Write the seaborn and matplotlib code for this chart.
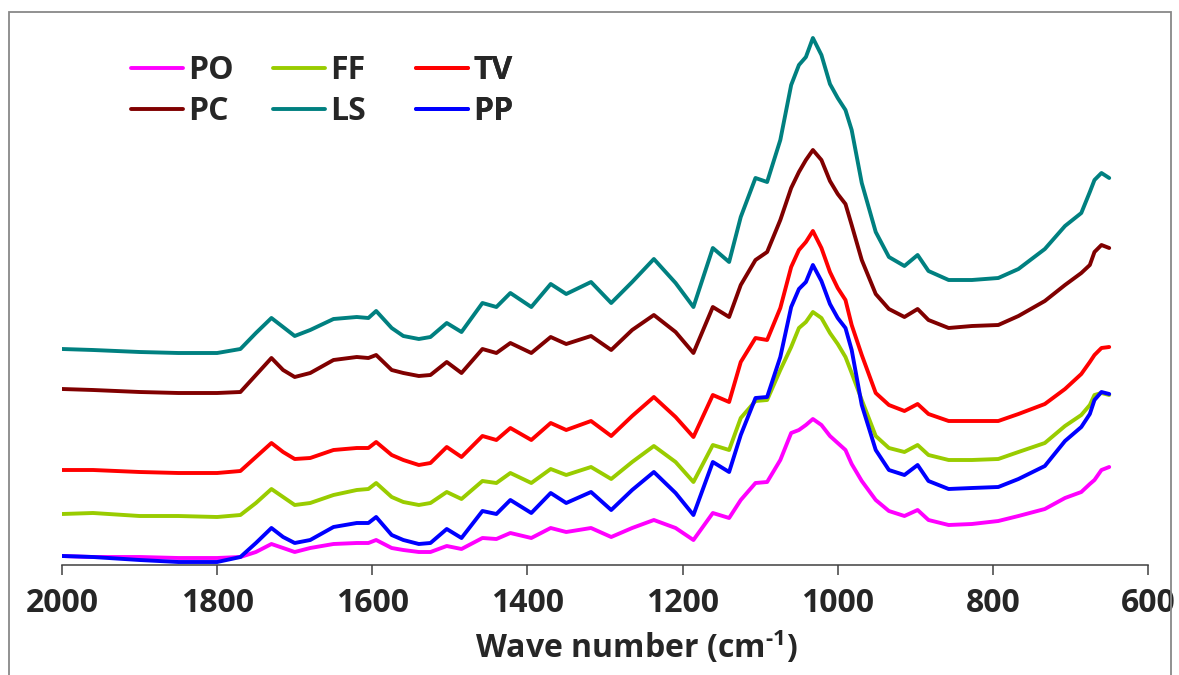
import numpy as np
import pandas as pd
import matplotlib
matplotlib.use("Agg")
import matplotlib.pyplot as plt
from matplotlib.patches import Rectangle
import seaborn as sns

# wave numbers (cm-1), shared by all spectra
wavenumber = [2000, 1960, 1900, 1850, 1800, 1770, 1750, 1730, 1715, 1700,
              1680, 1650, 1620, 1605, 1595, 1575, 1560, 1540, 1525, 1504,
              1485, 1458, 1440, 1422, 1395, 1370, 1350, 1318, 1292, 1265,
              1237, 1209, 1186, 1161, 1140, 1125, 1106, 1091, 1074, 1060,
              1050, 1041, 1032, 1021, 1010, 1000, 990, 982, 969, 951,
              934, 914, 897, 883, 857, 827, 793, 767, 733, 707,
              686, 675, 669, 660, 650]

# absorbance (offset, a.u.)
po = [0.09, 0.08, 0.08, 0.07, 0.07, 0.08, 0.13, 0.21, 0.17, 0.13,
      0.17, 0.21, 0.22, 0.22, 0.25, 0.17, 0.15, 0.13, 0.13, 0.19,
      0.16, 0.27, 0.26, 0.32, 0.27, 0.37, 0.33, 0.37, 0.28, 0.37,
      0.45, 0.37, 0.25, 0.52, 0.47, 0.65, 0.82, 0.83, 1.05, 1.32,
      1.35, 1.40, 1.46, 1.40, 1.29, 1.22, 1.15, 1.01, 0.84, 0.65,
      0.54, 0.49, 0.55, 0.45, 0.40, 0.41, 0.44, 0.49, 0.56, 0.67,
      0.73, 0.81, 0.85, 0.95, 0.98]
ff = [0.51, 0.52, 0.49, 0.49, 0.48, 0.50, 0.62, 0.76, 0.68, 0.60,
      0.62, 0.70, 0.75, 0.76, 0.82, 0.68, 0.63, 0.60, 0.62, 0.73,
      0.66, 0.84, 0.82, 0.92, 0.82, 0.96, 0.90, 0.98, 0.86, 1.03,
      1.19, 1.03, 0.83, 1.20, 1.15, 1.47, 1.64, 1.65, 1.95, 2.18,
      2.37, 2.43, 2.53, 2.47, 2.32, 2.21, 2.08, 1.92, 1.65, 1.29,
      1.17, 1.13, 1.20, 1.10, 1.05, 1.05, 1.06, 1.13, 1.22, 1.39,
      1.50, 1.60, 1.70, 1.72, 1.70]
tv = [0.95, 0.95, 0.93, 0.92, 0.92, 0.94, 1.08, 1.22, 1.13, 1.06,
      1.07, 1.15, 1.17, 1.17, 1.23, 1.10, 1.05, 1.00, 1.02, 1.18,
      1.08, 1.29, 1.25, 1.37, 1.25, 1.42, 1.35, 1.44, 1.29, 1.49,
      1.68, 1.48, 1.28, 1.70, 1.63, 2.03, 2.27, 2.25, 2.57, 2.98,
      3.15, 3.23, 3.34, 3.17, 2.93, 2.77, 2.65, 2.40, 2.10, 1.72,
      1.60, 1.54, 1.61, 1.51, 1.44, 1.44, 1.44, 1.51, 1.61, 1.76,
      1.91, 2.03, 2.10, 2.17, 2.18]
pc = [1.76, 1.75, 1.73, 1.72, 1.72, 1.73, 1.90, 2.07, 1.95, 1.88,
      1.92, 2.05, 2.08, 2.07, 2.10, 1.95, 1.92, 1.89, 1.90, 2.03,
      1.92, 2.16, 2.12, 2.22, 2.12, 2.28, 2.21, 2.29, 2.15, 2.35,
      2.50, 2.33, 2.12, 2.58, 2.48, 2.80, 3.05, 3.13, 3.45, 3.77,
      3.93, 4.05, 4.15, 4.05, 3.84, 3.71, 3.61, 3.40, 3.05, 2.71,
      2.56, 2.48, 2.56, 2.45, 2.37, 2.39, 2.40, 2.49, 2.64, 2.80,
      2.92, 3.00, 3.13, 3.20, 3.17]
ls = [2.16, 2.15, 2.13, 2.12, 2.12, 2.16, 2.32, 2.47, 2.38, 2.29,
      2.35, 2.46, 2.48, 2.47, 2.54, 2.37, 2.29, 2.26, 2.28, 2.42,
      2.33, 2.62, 2.58, 2.72, 2.58, 2.81, 2.71, 2.83, 2.62, 2.83,
      3.06, 2.82, 2.58, 3.17, 3.03, 3.48, 3.87, 3.83, 4.25, 4.80,
      5.00, 5.08, 5.27, 5.10, 4.81, 4.67, 4.55, 4.35, 3.82, 3.33,
      3.08, 2.99, 3.10, 2.94, 2.85, 2.85, 2.87, 2.96, 3.16, 3.39,
      3.52, 3.73, 3.85, 3.92, 3.87]
pp = [0.09, 0.08, 0.05, 0.03, 0.03, 0.08, 0.22, 0.37, 0.28, 0.22,
      0.25, 0.38, 0.42, 0.42, 0.48, 0.30, 0.25, 0.21, 0.22, 0.36,
      0.27, 0.54, 0.51, 0.65, 0.52, 0.72, 0.62, 0.73, 0.55, 0.75,
      0.93, 0.72, 0.50, 1.03, 0.93, 1.30, 1.67, 1.68, 2.08, 2.58,
      2.76, 2.83, 3.00, 2.84, 2.61, 2.47, 2.37, 2.15, 1.60, 1.15,
      0.95, 0.90, 1.00, 0.84, 0.76, 0.77, 0.78, 0.86, 0.99, 1.24,
      1.38, 1.51, 1.65, 1.73, 1.71]

names = ["PO", "FF", "TV", "PC", "LS", "PP"]
spectra = {"PO": po, "FF": ff, "TV": tv, "PC": pc, "LS": ls, "PP": pp}
colors = {"PO": "#FF00FF", "FF": "#99CC00", "TV": "#FF0000",
          "PC": "#800000", "LS": "#008080", "PP": "#0000FF"}

sns.set_theme(style="white")
plt.rcParams["font.family"] = ["Open Sans", "DejaVu Sans"]
plt.rcParams["font.weight"] = "bold"
plt.rcParams["mathtext.fontset"] = "custom"
plt.rcParams["mathtext.rm"] = "Open Sans:bold"
plt.rcParams["mathtext.bf"] = "Open Sans:bold"

W, H = 1179, 675
fs = 23
fig = plt.figure(figsize=(W / 100, H / 100), dpi=100)
fig.patch.set_facecolor("white")
ax = fig.add_axes([62 / W, (H - 565) / H, 1086 / W, 550 / H])

for name in names:
    sns.lineplot(x=wavenumber, y=spectra[name], color=colors[name], linewidth=2.8,
                 sort=False, estimator=None, label=name, legend=False, ax=ax,
                 solid_joinstyle="round", solid_capstyle="round")

ax.set_xlim(2000, 600)
ax.set_ylim(0, 5.5)
ax.set_xticks(np.arange(2000, 599, -200))
ax.set_yticks([])
for s in ["left", "top", "right"]:
    ax.spines[s].set_visible(False)
ax.spines["bottom"].set_color("#404040")
ax.spines["bottom"].set_linewidth(1.1)
ax.tick_params(axis="x", direction="out", length=7.5, width=1.1, color="#404040",
               labelsize=fs, pad=8, bottom=True)
for t in ax.get_xticklabels():
    t.set_fontweight("bold")
ax.set_xlabel(r"Wave number (cm$^{\text{-}1}$)", fontsize=fs, fontweight="bold")
ax.xaxis.set_label_coords((636 - 62) / 1086, -0.115)
ax.set_ylabel("")

handles = {l.get_label(): l for l in ax.lines}
cols = [(["PO", "PC"], 131), (["FF", "LS"], 273), (["TV", "PP"], 416)]
for labels, xpx in cols:
    leg = ax.legend([handles[k] for k in labels], labels, loc="upper left",
                    bbox_to_anchor=(xpx / W, 1 - 54 / H), bbox_transform=fig.transFigure,
                    frameon=False, borderpad=0, borderaxespad=0, handlelength=1.63,
                    handletextpad=0.16, labelspacing=0.25,
                    prop={"size": fs, "weight": "bold"})
    ax.add_artist(leg)

fig.patches.append(Rectangle((9 / W, -0.02), (1171 - 9) / W, (H - 12) / H + 0.02,
                             transform=fig.transFigure, fill=False,
                             edgecolor="#888888", linewidth=1.3))

fig.savefig("out.png", dpi=100)
